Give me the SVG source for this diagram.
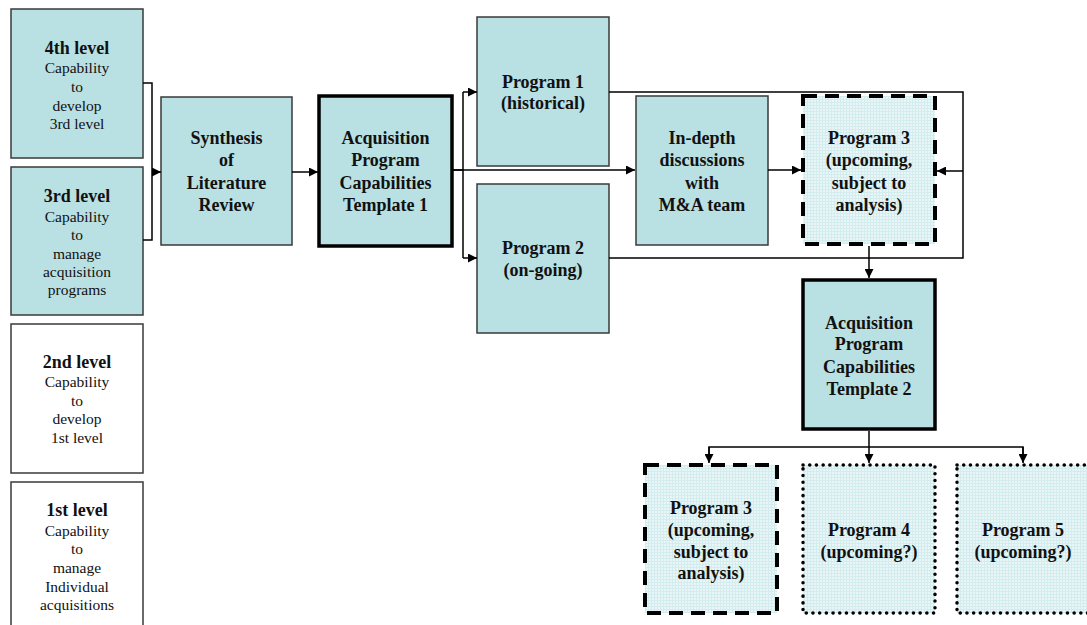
<svg xmlns="http://www.w3.org/2000/svg" width="1087" height="625" viewBox="0 0 1087 625" font-family="'Liberation Serif', 'DejaVu Serif', 'Times New Roman', serif">
  <style>
    text { font-family: "Liberation Serif", "DejaVu Serif", "Times New Roman", serif; fill: #111; text-anchor: middle; dominant-baseline: central; }
    .t { font-weight: bold; font-size: 18px; }
    .b { font-size: 15.5px; }
    .box { fill: #B9E0E3; stroke: #3a3a3a; stroke-width: 1.5; }
    .plain { fill: #ffffff; stroke: #3a3a3a; stroke-width: 1.5; }
    .thick { fill: #B9E0E3; stroke: #000; stroke-width: 3.5; }
    .dash { fill: url(#grid); stroke: #000; stroke-width: 4; stroke-dasharray: 14 8; }
    .dot { fill: url(#grid); stroke: #000; stroke-width: 3.5; stroke-dasharray: 0.1 6.6; stroke-linecap: round; }
    .wire { fill: none; stroke: #000; stroke-width: 1.5; }
    .arr { marker-end: url(#head); }
  </style>
  <defs>
    <marker id="head" viewBox="0 0 10 10" refX="10" refY="5" markerWidth="9" markerHeight="9" markerUnits="userSpaceOnUse" orient="auto">
      <path d="M0,0 L10,5 L0,10 z" fill="#000"/>
    </marker>
    <pattern id="grid" width="3" height="3" patternUnits="userSpaceOnUse">
      <rect width="3" height="3" fill="#E9F5F6"/>
      <path d="M0,0.5 H3 M0.5,0 V3" stroke="#D3ECEE" stroke-width="1"/>
    </pattern>
  </defs>

  <!-- capability levels -->
  <g id="level4">
    <rect class="box" x="11" y="9" width="132" height="149"/>
    <text class="t" x="77" y="48">4th level</text>
    <text class="b" x="77" y="67">Capability</text>
    <text class="b" x="77" y="86">to</text>
    <text class="b" x="77" y="105">develop</text>
    <text class="b" x="77" y="123">3rd level</text>
  </g>
  <g id="level3">
    <rect class="box" x="11" y="167" width="132" height="148"/>
    <text class="t" x="77" y="196">3rd level</text>
    <text class="b" x="77" y="216">Capability</text>
    <text class="b" x="77" y="234">to</text>
    <text class="b" x="77" y="253">manage</text>
    <text class="b" x="77" y="271">acquisition</text>
    <text class="b" x="77" y="289">programs</text>
  </g>
  <g id="level2">
    <rect class="plain" x="11" y="324" width="132" height="149"/>
    <text class="t" x="77" y="362">2nd level</text>
    <text class="b" x="77" y="381">Capability</text>
    <text class="b" x="77" y="400">to</text>
    <text class="b" x="77" y="418">develop</text>
    <text class="b" x="77" y="437">1st level</text>
  </g>
  <g id="level1">
    <rect class="plain" x="11" y="482" width="132" height="150"/>
    <text class="t" x="77" y="510">1st level</text>
    <text class="b" x="77" y="530">Capability</text>
    <text class="b" x="77" y="548">to</text>
    <text class="b" x="77" y="567">manage</text>
    <text class="b" x="77" y="586">Individual</text>
    <text class="b" x="77" y="604">acquisitions</text>
  </g>

  <!-- process boxes -->
  <g id="synthesis">
    <rect class="box" x="161" y="97" width="131" height="148"/>
    <text class="t" x="226.5" y="138">Synthesis</text>
    <text class="t" x="226.5" y="160">of</text>
    <text class="t" x="226.5" y="183">Literature</text>
    <text class="t" x="226.5" y="205">Review</text>
  </g>
  <g id="template1">
    <rect class="thick" x="319" y="96" width="133" height="150"/>
    <text class="t" x="385.5" y="138">Acquisition</text>
    <text class="t" x="385.5" y="160">Program</text>
    <text class="t" x="385.5" y="183">Capabilities</text>
    <text class="t" x="385.5" y="205">Template 1</text>
  </g>
  <g id="program1">
    <rect class="box" x="477" y="17" width="132" height="149"/>
    <text class="t" x="543" y="82">Program 1</text>
    <text class="t" x="543" y="103">(historical)</text>
  </g>
  <g id="program2">
    <rect class="box" x="477" y="184" width="132" height="149"/>
    <text class="t" x="543" y="248">Program 2</text>
    <text class="t" x="543" y="270">(on-going)</text>
  </g>
  <g id="discussions">
    <rect class="box" x="636" y="96" width="132" height="149"/>
    <text class="t" x="702" y="138">In-depth</text>
    <text class="t" x="702" y="160">discussions</text>
    <text class="t" x="702" y="183">with</text>
    <text class="t" x="702" y="205">M&amp;A team</text>
  </g>
  <g id="program3-top">
    <rect class="dash" x="803" y="96" width="132" height="148"/>
    <text class="t" x="869" y="138">Program 3</text>
    <text class="t" x="869" y="160">(upcoming,</text>
    <text class="t" x="869" y="183">subject to</text>
    <text class="t" x="869" y="205">analysis)</text>
  </g>
  <g id="template2">
    <rect class="thick" x="803" y="280" width="132" height="149"/>
    <text class="t" x="869" y="323">Acquisition</text>
    <text class="t" x="869" y="344">Program</text>
    <text class="t" x="869" y="367">Capabilities</text>
    <text class="t" x="869" y="389">Template 2</text>
  </g>
  <g id="program3-bottom">
    <rect class="dash" x="645" y="465" width="132" height="148"/>
    <text class="t" x="711" y="508">Program 3</text>
    <text class="t" x="711" y="530">(upcoming,</text>
    <text class="t" x="711" y="552">subject to</text>
    <text class="t" x="711" y="573">analysis)</text>
  </g>
  <g id="program4">
    <rect class="dot" x="803" y="465" width="132" height="148"/>
    <text class="t" x="869" y="530">Program 4</text>
    <text class="t" x="869" y="552">(upcoming?)</text>
  </g>
  <g id="program5">
    <rect class="dot" x="957" y="465" width="132" height="148"/>
    <text class="t" x="1023" y="530">Program 5</text>
    <text class="t" x="1023" y="552">(upcoming?)</text>
  </g>

  <!-- connectors -->
  <g id="connectors">
    <path class="wire" d="M143,83 H152 V240 H143"/>
    <path class="wire arr" d="M152,172 H161"/>
    <path class="wire arr" d="M292,172 H318"/>
    <path class="wire" d="M452,170 H463 M463,92 V258"/>
    <path class="wire arr" d="M463,92 H477"/>
    <path class="wire arr" d="M463,258 H477"/>
    <path class="wire arr" d="M452,170 H635"/>
    <path class="wire arr" d="M768,170 H801"/>
    <path class="wire" d="M609,92 H963 V258 H609"/>
    <path class="wire arr" d="M963,171 H937"/>
    <path class="wire arr" d="M869,246 V278"/>
    <path class="wire" d="M869,431 V447 M709,462 V447 H1023 V462"/>
    <path class="wire arr" d="M709,447 V463"/>
    <path class="wire arr" d="M869,447 V463"/>
    <path class="wire arr" d="M1023,447 V463"/>
  </g>
</svg>
